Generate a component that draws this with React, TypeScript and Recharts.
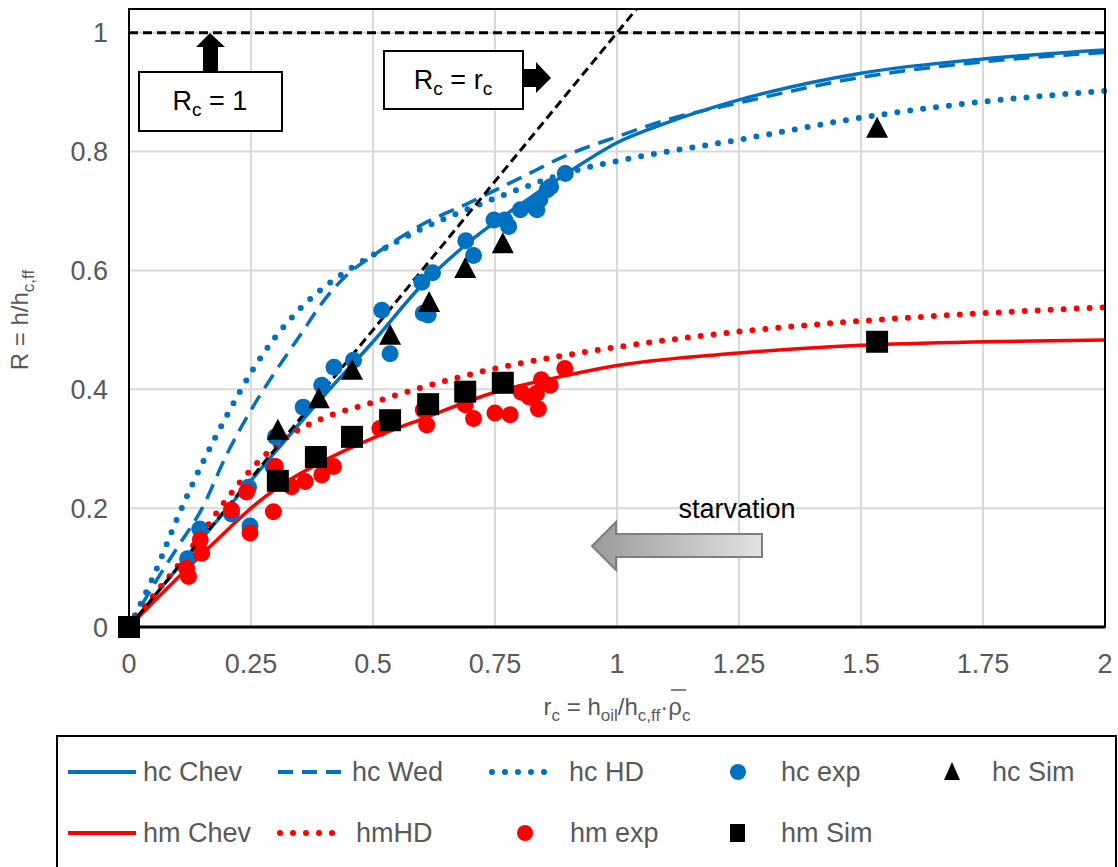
import { ComposedChart, Line, Scatter, XAxis, YAxis, CartesianGrid, ReferenceLine } from 'recharts'

const FONT = '"Liberation Sans", Arial, sans-serif'
const BLUE = '#0070C0'
const RED = '#FF0000'
const GREY = '#595959'

const xTicks = [0, 0.25, 0.5, 0.75, 1, 1.25, 1.5, 1.75, 2]
const yTicks = [0, 0.2, 0.4, 0.6, 0.8, 1]

// model curves, [r_c, R]
const hcChev = [[0, 0], [0.1, 0.1], [0.2, 0.198], [0.3, 0.295], [0.4, 0.39], [0.5, 0.48], [0.6, 0.575], [0.7, 0.65], [0.8, 0.71], [0.9, 0.765], [1.0, 0.815], [1.1, 0.848], [1.25, 0.887], [1.5, 0.932], [1.75, 0.956], [2, 0.971]]
const hcWed = [[0, 0], [0.05, 0.07], [0.1, 0.135], [0.15, 0.2], [0.2, 0.29], [0.25, 0.365], [0.3, 0.43], [0.35, 0.49], [0.4, 0.55], [0.45, 0.595], [0.5, 0.625], [0.6, 0.677], [0.7, 0.715], [0.8, 0.755], [0.9, 0.795], [1.0, 0.825], [1.1, 0.853], [1.25, 0.882], [1.5, 0.925], [1.75, 0.951], [2, 0.967]]
const hcHD = [[0, 0], [0.05, 0.085], [0.1, 0.185], [0.15, 0.275], [0.2, 0.355], [0.25, 0.428], [0.3, 0.488], [0.35, 0.535], [0.4, 0.572], [0.45, 0.601], [0.5, 0.626], [0.6, 0.67], [0.7, 0.705], [0.8, 0.737], [0.9, 0.765], [1.0, 0.784], [1.25, 0.82], [1.5, 0.857], [1.75, 0.884], [2, 0.902]]
const hmChev = [[0, 0], [0.05, 0.042], [0.1, 0.083], [0.15, 0.123], [0.2, 0.162], [0.25, 0.2], [0.3, 0.232], [0.4, 0.28], [0.5, 0.318], [0.6, 0.35], [0.75, 0.395], [0.9, 0.424], [1.0, 0.44], [1.25, 0.461], [1.5, 0.474], [1.75, 0.48], [2, 0.483]]
const hmHD = [[0, 0], [0.05, 0.053], [0.1, 0.103], [0.15, 0.158], [0.2, 0.215], [0.25, 0.265], [0.3, 0.305], [0.35, 0.333], [0.4, 0.352], [0.5, 0.378], [0.6, 0.403], [0.75, 0.435], [0.9, 0.458], [1.0, 0.471], [1.25, 0.497], [1.5, 0.515], [1.75, 0.528], [2, 0.538]]
const rcLine = [[0, 0], [1.04, 1.04]]

// measurements and simulations
const hcExp = [[0.12, 0.115], [0.145, 0.165], [0.21, 0.19], [0.245, 0.235], [0.248, 0.17], [0.295, 0.27], [0.3, 0.32], [0.357, 0.37], [0.395, 0.407], [0.42, 0.437], [0.46, 0.449], [0.518, 0.533], [0.535, 0.46], [0.6, 0.58], [0.603, 0.528], [0.613, 0.525], [0.622, 0.596], [0.69, 0.65], [0.706, 0.625], [0.748, 0.685], [0.77, 0.685], [0.778, 0.674], [0.802, 0.702], [0.829, 0.708], [0.836, 0.702], [0.842, 0.72], [0.857, 0.736], [0.864, 0.741], [0.894, 0.763]]
const hmExp = [[0.118, 0.099], [0.122, 0.085], [0.146, 0.147], [0.149, 0.124], [0.21, 0.197], [0.241, 0.227], [0.248, 0.158], [0.296, 0.194], [0.3, 0.27], [0.333, 0.236], [0.361, 0.245], [0.395, 0.256], [0.419, 0.27], [0.514, 0.334], [0.603, 0.365], [0.61, 0.34], [0.689, 0.374], [0.706, 0.351], [0.75, 0.36], [0.781, 0.357], [0.804, 0.395], [0.82, 0.387], [0.835, 0.393], [0.839, 0.367], [0.845, 0.416], [0.863, 0.407], [0.893, 0.435]]
const hcSim = [[0.305, 0.332], [0.389, 0.385], [0.457, 0.433], [0.535, 0.492], [0.615, 0.547], [0.689, 0.604], [0.766, 0.646], [1.533, 0.84]]
const hmSim = [[0, 0], [0.305, 0.246], [0.383, 0.286], [0.457, 0.32], [0.535, 0.348], [0.613, 0.375], [0.689, 0.396], [0.766, 0.411], [1.533, 0.48]]

const pts = (a: number[][]) => a.map(([x, y]) => ({ x, y }))

const Dot = (color: string) => (p: any) => <circle cx={p.cx} cy={p.cy} r={8.5} fill={color} />
const Tri = (p: any) => <polygon points={`${p.cx},${p.cy - 11} ${p.cx + 11},${p.cy + 10} ${p.cx - 11},${p.cy + 10}`} fill="#000" />
const Sq = (p: any) => <rect x={p.cx - 11} y={p.cy - 11} width={22} height={22} fill="#000" />

const tickStyle = { fill: GREY, fontSize: 27, fontFamily: FONT }

function Overlay() {
  const r1 = 772
  const r2 = 833
  const lt = { fill: GREY, fontSize: 27, fontFamily: FONT, dominantBaseline: 'central' as const }
  return (
    <svg width={1118} height={867} style={{ position: 'absolute', left: 0, top: 0, pointerEvents: 'none' }}>
      <defs>
        <linearGradient id="starv" x1="0" y1="0" x2="1" y2="0">
          <stop offset="0%" stopColor="#9a9a9a" />
          <stop offset="100%" stopColor="#e2e2e2" />
        </linearGradient>
      </defs>
      {/* plot frame */}
      <rect x={129} y={9} width={976} height={618} fill="none" stroke="#000" strokeWidth={2} />
      <line x1={129} y1={627} x2={1105} y2={627} stroke="#000" strokeWidth={3} />

      {/* axis titles */}
      <text transform="translate(28,320) rotate(-90)" textAnchor="middle" fill={GREY} fontSize={24} fontFamily={FONT}>
        R = h/h<tspan dy={6} fontSize={17}>c,ff</tspan>
      </text>
      <text x={617} y={715} textAnchor="middle" fill={GREY} fontSize={24} fontFamily={FONT}>
        r<tspan dy={6} fontSize={17}>c</tspan>
        <tspan dy={-6}> = h</tspan><tspan dy={6} fontSize={17}>oil</tspan>
        <tspan dy={-6}>/h</tspan><tspan dy={6} fontSize={17}>c,ff</tspan>
        <tspan dy={-6}>·ρ</tspan><tspan dy={6} fontSize={17}>c</tspan>
      </text>
      <line x1={671} y1={690} x2={686} y2={690} stroke={GREY} strokeWidth={1.5} />

      {/* R_c = 1 note */}
      <rect x={139} y={72} width={143} height={59} fill="#fff" stroke="#000" strokeWidth={2} />
      <text x={210} y={110} textAnchor="middle" fill="#000" fontSize={27} fontFamily={FONT}>
        R<tspan dy={6} fontSize={19}>c</tspan><tspan dy={-6}> = 1</tspan>
      </text>
      <polygon points="203,72 218,72 218,47 225,47 210,33 196,47 203,47" fill="#000" />

      {/* R_c = r_c note */}
      <rect x={384} y={51} width={139} height={58} fill="#fff" stroke="#000" strokeWidth={2} />
      <text x={453} y={89} textAnchor="middle" fill="#000" fontSize={27} fontFamily={FONT}>
        R<tspan dy={6} fontSize={19}>c</tspan><tspan dy={-6}> = r</tspan><tspan dy={6} fontSize={19}>c</tspan>
      </text>
      <polygon points="524,69 536,69 536,62 551,78 536,93 536,87 524,87" fill="#000" />

      {/* starvation */}
      <text x={737} y={518} textAnchor="middle" fill="#000" fontSize={27} fontFamily={FONT}>starvation</text>
      <polygon points="592,546 616,522 616,534 762,534 762,557 616,557 616,570" fill="url(#starv)" stroke="#7f7f7f" strokeWidth={2} />

      {/* legend */}
      <rect x={57} y={736} width={1059} height={200} fill="#fff" stroke="#000" strokeWidth={2} />
      <line x1={68} y1={r1} x2={136} y2={r1} stroke={BLUE} strokeWidth={4} />
      <text x={143} y={r1} {...lt}>hc Chev</text>
      <line x1={278} y1={r1} x2={350} y2={r1} stroke={BLUE} strokeWidth={4} strokeDasharray="15 9" />
      <text x={352} y={r1} {...lt}>hc Wed</text>
      <line x1={492} y1={r1} x2={550} y2={r1} stroke={BLUE} strokeWidth={6} strokeDasharray="0 13" strokeLinecap="round" />
      <text x={569} y={r1} {...lt}>hc HD</text>
      <circle cx={738} cy={r1} r={8} fill={BLUE} />
      <text x={781} y={r1} {...lt}>hc exp</text>
      <polygon points={`952,${r1 - 10} 960,${r1 + 8} 944,${r1 + 8}`} fill="#000" />
      <text x={992} y={r1} {...lt}>hc Sim</text>

      <line x1={68} y1={r2} x2={136} y2={r2} stroke={RED} strokeWidth={4} />
      <text x={143} y={r2} {...lt}>hm Chev</text>
      <line x1={280} y1={r2} x2={338} y2={r2} stroke={RED} strokeWidth={6} strokeDasharray="0 13" strokeLinecap="round" />
      <text x={356} y={r2} {...lt}>hmHD</text>
      <circle cx={525} cy={r2} r={8} fill={RED} />
      <text x={570} y={r2} {...lt}>hm exp</text>
      <rect x={730} y={r2 - 9} width={15} height={18} fill="#000" />
      <text x={781} y={r2} {...lt}>hm Sim</text>
    </svg>
  )
}

export default function App() {
  return (
    <div style={{ position: 'absolute', left: 0, top: 0, width: 1118, height: 867, overflow: 'hidden', background: '#fff', fontFamily: FONT }}>
      <ComposedChart width={1118} height={867} margin={{ top: 9, right: 13, left: 0, bottom: 0 }}>
        <CartesianGrid stroke="#d9d9d9" strokeWidth={2} />
        <XAxis type="number" dataKey="x" domain={[0, 2]} ticks={xTicks} height={240}
          axisLine={false} tickLine={false} tickSize={24} tickMargin={3} tick={tickStyle} />
        <YAxis type="number" dataKey="y" domain={[0, 1.04]} ticks={yTicks} width={129}
          axisLine={false} tickLine={false} tickSize={18} tickMargin={3} tick={tickStyle} />
        <ReferenceLine y={1} stroke="#000" strokeWidth={3} strokeDasharray="9 5" />
        <Line data={pts(hcChev)} dataKey="y" type="monotone" stroke={BLUE} strokeWidth={3.5} dot={false} activeDot={false} isAnimationActive={false} />
        <Line data={pts(hcWed)} dataKey="y" type="monotone" stroke={BLUE} strokeWidth={3.5} strokeDasharray="16 9" dot={false} activeDot={false} isAnimationActive={false} />
        <Line data={pts(hcHD)} dataKey="y" type="monotone" stroke={BLUE} strokeWidth={6} strokeDasharray="0 13" strokeLinecap="round" dot={false} activeDot={false} isAnimationActive={false} />
        <Line data={pts(hmChev)} dataKey="y" type="monotone" stroke={RED} strokeWidth={3.5} dot={false} activeDot={false} isAnimationActive={false} />
        <Line data={pts(hmHD)} dataKey="y" type="monotone" stroke={RED} strokeWidth={6} strokeDasharray="0 13" strokeLinecap="round" dot={false} activeDot={false} isAnimationActive={false} />
        <Scatter data={pts(hcExp)} shape={Dot(BLUE)} isAnimationActive={false} />
        <Scatter data={pts(hmExp)} shape={Dot(RED)} isAnimationActive={false} />
        <Line data={pts(rcLine)} dataKey="y" type="linear" stroke="#000" strokeWidth={3} strokeDasharray="9 5" dot={false} activeDot={false} isAnimationActive={false} />
        <Scatter data={pts(hcSim)} shape={Tri} isAnimationActive={false} />
        <Scatter data={pts(hmSim)} shape={Sq} isAnimationActive={false} />
      </ComposedChart>
      <Overlay />
    </div>
  )
}
